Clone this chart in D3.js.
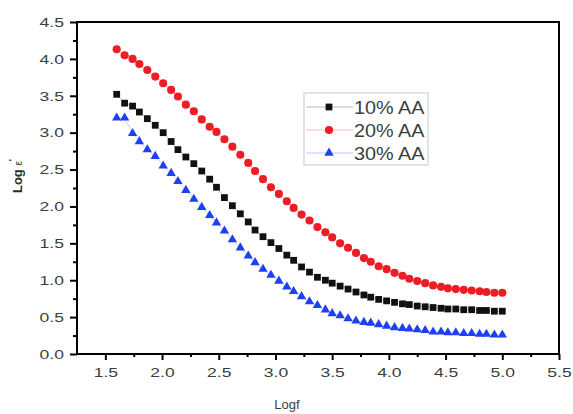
<!DOCTYPE html>
<html>
<head>
<meta charset="utf-8">
<script src="https://cdn.jsdelivr.net/npm/d3@7"></script>
<style>
  body { margin: 0; background: #fff; }
  svg { display: block; font-family: "Liberation Sans", Arial, sans-serif; }
</style>
</head>
<body>
<svg id="chart"></svg>
<script>
// data
const logf = [1.60, 1.67, 1.74, 1.80, 1.87, 1.94, 2.01, 2.08, 2.14, 2.21,
  2.28, 2.35, 2.42, 2.48, 2.55, 2.62, 2.69, 2.76, 2.82, 2.89,
  2.96, 3.03, 3.10, 3.16, 3.23, 3.30, 3.37, 3.44, 3.50, 3.57,
  3.64, 3.71, 3.78, 3.84, 3.91, 3.98, 4.05, 4.12, 4.18, 4.25,
  4.32, 4.39, 4.46, 4.52, 4.59, 4.66, 4.73, 4.80, 4.86, 4.93, 5.00];
const aa10 = [3.52, 3.40, 3.36, 3.28, 3.19, 3.10, 3.00, 2.88, 2.77, 2.67,
  2.58, 2.48, 2.37, 2.26, 2.12, 2.01, 1.90, 1.79, 1.68, 1.59,
  1.51, 1.43, 1.34, 1.27, 1.18, 1.11, 1.04, 1.00, 0.96, 0.92,
  0.88, 0.84, 0.80, 0.77, 0.74, 0.72, 0.70, 0.68, 0.67, 0.65,
  0.64, 0.63, 0.62, 0.61, 0.61, 0.60, 0.60, 0.59, 0.59, 0.58, 0.58];
const aa20 = [4.13, 4.05, 4.00, 3.93, 3.85, 3.76, 3.67, 3.58, 3.49, 3.38,
  3.29, 3.18, 3.08, 3.01, 2.91, 2.81, 2.70, 2.59, 2.48, 2.37,
  2.26, 2.17, 2.07, 1.98, 1.89, 1.81, 1.72, 1.65, 1.58, 1.50,
  1.44, 1.37, 1.30, 1.25, 1.19, 1.15, 1.10, 1.06, 1.02, 0.99,
  0.96, 0.93, 0.91, 0.89, 0.88, 0.87, 0.86, 0.85, 0.84, 0.83, 0.83];
const aa30 = [3.20, 3.20, 2.99, 2.88, 2.77, 2.68, 2.55, 2.45, 2.34, 2.22,
  2.10, 1.99, 1.88, 1.78, 1.67, 1.55, 1.44, 1.33, 1.24, 1.15,
  1.07, 0.99, 0.91, 0.85, 0.78, 0.71, 0.66, 0.60, 0.55, 0.52,
  0.48, 0.45, 0.43, 0.42, 0.40, 0.38, 0.36, 0.35, 0.34, 0.33,
  0.32, 0.30, 0.30, 0.29, 0.29, 0.28, 0.28, 0.27, 0.27, 0.26, 0.26];
const seriesNames = ['10% AA', '20% AA', '30% AA'];
const xTicks = [1.5, 2.0, 2.5, 3.0, 3.5, 4.0, 4.5, 5.0, 5.5];
const xMinor = [1.75, 2.25, 2.75, 3.25, 3.75, 4.25, 4.75, 5.25];
const yTicks = [0.0, 0.5, 1.0, 1.5, 2.0, 2.5, 3.0, 3.5, 4.0, 4.5];
const yMinor = [0.25, 0.75, 1.25, 1.75, 2.25, 2.75, 3.25, 3.75, 4.25];

const W = 573, H = 414;
const margin = {top: 22, right: 14, bottom: 60, left: 77};
const width = W - margin.left - margin.right;
const height = H - margin.top - margin.bottom;

const svg = d3.select('#chart').attr('width', W).attr('height', H);
const g = svg.append('g')
    .attr('transform', 'translate(' + margin.left + ',' + margin.top + ')');

const x = d3.scaleLinear().domain([1.25, 5.5]).range([0, width]);
const y = d3.scaleLinear().domain([0, 4.5]).range([height, 0]);

const styles = [
  {data: aa10, color: '#111111', symbol: d3.symbolSquare, size: 46},
  {data: aa20, color: '#ee1c25', symbol: d3.symbolCircle, size: 52},
  {data: aa30, color: '#1f3ff2', symbol: d3.symbolTriangle, size: 38}
];

// frame
g.append('rect')
    .attr('width', width).attr('height', height)
    .attr('fill', 'none').attr('stroke', '#000').attr('stroke-width', 2);

// axes
function styleAxis(sel) {
  sel.select('.domain').remove();
  sel.selectAll('line').attr('stroke', '#000').attr('stroke-width', 2);
  sel.selectAll('text')
      .attr('fill', '#3a3f3d')
      .style('font-size', '13.5px')
      .attr('transform', 'scale(1.3,1)');
}

g.append('g').attr('transform', 'translate(0,' + height + ')')
    .call(d3.axisBottom(x).tickValues(xTicks).tickFormat(d3.format('.1f')).tickSize(6).tickPadding(7))
    .call(styleAxis);
g.append('g').attr('transform', 'translate(0,' + height + ')')
    .call(d3.axisBottom(x).tickValues(xMinor).tickFormat('').tickSize(3))
    .call(styleAxis);
g.append('g')
    .call(d3.axisLeft(y).tickValues(yTicks).tickFormat(d3.format('.1f')).tickSize(7).tickPadding(3))
    .call(styleAxis);
g.append('g')
    .call(d3.axisLeft(y).tickValues(yMinor).tickFormat('').tickSize(4))
    .call(styleAxis);

// series
styles.forEach(function(s) {
  const pts = logf.map((f, i) => ({f: f, v: s.data[i]}));
  g.append('path')
      .datum(pts)
      .attr('fill', 'none')
      .attr('stroke', s.color)
      .attr('stroke-opacity', 0.25)
      .attr('stroke-width', 1)
      .attr('d', d3.line().x(d => x(d.f)).y(d => y(d.v)));
  g.selectAll(null)
      .data(pts)
      .enter()
      .append('path')
      .attr('transform', d => 'translate(' + x(d.f) + ',' + y(d.v) + ')')
      .attr('d', d3.symbol().type(s.symbol).size(s.size))
      .attr('fill', s.color);
});

// legend
const legend = svg.append('g').attr('transform', 'translate(304,93)');
legend.append('rect')
    .attr('width', 124).attr('height', 72)
    .attr('fill', '#fff').attr('stroke', '#d8dcdc').attr('stroke-width', 1.5);
styles.forEach(function(s, i) {
  const row = legend.append('g').attr('transform', 'translate(0,' + (14 + i * 23) + ')');
  row.append('line')
      .attr('x1', 2).attr('x2', 49)
      .attr('stroke', s.color).attr('stroke-opacity', 0.3);
  row.append('path')
      .attr('transform', 'translate(25,0)')
      .attr('d', d3.symbol().type(s.symbol).size(s.size))
      .attr('fill', s.color);
  row.append('text')
      .attr('transform', 'translate(50,6.5) scale(1.1,1)')
      .attr('fill', '#3a3f3d')
      .style('font-size', '18px')
      .text(seriesNames[i]);
});

// axis titles
svg.append('text')
    .attr('x', 287).attr('y', 409)
    .attr('text-anchor', 'middle')
    .attr('fill', '#3a3f3d')
    .style('font-size', '13px')
    .text('Logf');

const yTitle = svg.append('text')
    .attr('transform', 'translate(22,176) rotate(-90)')
    .attr('text-anchor', 'middle')
    .attr('fill', '#2a2f2d')
    .style('font-size', '13px')
    .style('font-weight', 'bold');
yTitle.append('tspan').text('Log ');
yTitle.append('tspan').style('font-weight', 'normal').style('font-size', '10px').text('ε');
yTitle.append('tspan').attr('dy', -7).style('font-size', '9px').text('\'');
</script>
</body>
</html>
